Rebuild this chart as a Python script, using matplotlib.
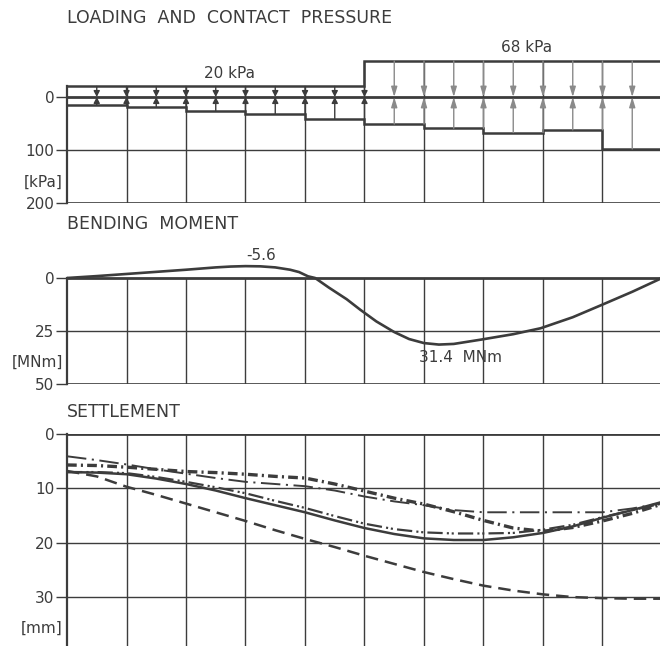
import numpy as np
import matplotlib
matplotlib.use("Agg")
import matplotlib.pyplot as plt

plt.rcParams['font.family'] = ['DejaVu Sans']
plt.rcParams['lines.scale_dashes'] = False

INK = '#3c3c3c'
LIGHT = '#8a8a8a'

# ---------------- data ----------------
cell_edges = np.arange(0, 11)                  # 10 raft segments
load_kpa = [20, 20, 20, 20, 20, 68, 68, 68, 68, 68]
contact_kpa = [15, 18, 27, 32, 41, 51, 59, 67, 62, 98]
load_labels = ["20 kPa", "68 kPa"]

moment_x = [0, 0.5, 1.0, 1.5, 2.0, 2.5, 2.75, 3.0, 3.25, 3.5, 3.75, 3.9, 4.05, 4.17,
            4.4, 4.7, 4.93, 5.2, 5.5, 5.75, 6.0, 6.25, 6.5, 6.95, 7.5, 7.96, 8.5, 8.97, 9.5, 10.0]
moment_mnm = [0, -0.9, -1.9, -2.9, -3.9, -5.0, -5.4, -5.6, -5.5, -5.0, -3.9, -2.8, -0.8, 0,
              4.5, 10.0, 15.0, 20.5, 25.5, 28.8, 30.7, 31.4, 31.1, 29.1, 26.5, 23.7, 18.5, 12.9, 6.5, 0]

settle_x = [0, 0.5, 1, 1.5, 2, 2.5, 3, 3.5, 4, 4.5, 5, 5.5, 6, 6.5, 7, 7.5, 8, 8.5, 9, 9.5, 10]
settle_dashed = [6.8, 7.8, 9.7, 11.2, 12.8, 14.4, 16.0, 17.7, 19.3, 20.8, 22.4, 23.9, 25.4, 26.7,
                 27.9, 28.8, 29.5, 30.0, 30.2, 30.3, 30.3]
settle_solid = [7.0, 7.1, 7.4, 8.2, 9.2, 10.4, 11.8, 13.1, 14.4, 15.9, 17.3, 18.4, 19.2, 19.5,
                19.5, 19.0, 18.2, 17.0, 15.4, 14.0, 12.5]
settle_dd = [7.0, 7.0, 7.2, 7.9, 8.8, 9.8, 10.9, 12.3, 13.6, 15.1, 16.5, 17.5, 18.1, 18.3,
             18.3, 18.2, 17.6, 16.7, 15.3, 14.0, 12.8]
settle_thick_dashdot = [5.7, 5.8, 6.1, 6.5, 6.9, 7.1, 7.4, 7.8, 8.1, 9.2, 10.5, 11.8, 12.9, 14.3,
                        15.9, 17.3, 17.9, 17.2, 16.0, 14.6, 12.9]
settle_thin_dashdot = [4.1, 4.8, 5.6, 6.5, 7.3, 8.1, 8.8, 9.2, 9.6, 10.4, 11.5, 12.4, 13.1, 14.0,
                       14.4, 14.4, 14.4, 14.4, 14.4, 13.7, 12.7]

# ---------------- figure ----------------
W, H = 660, 646
fig = plt.figure(figsize=(W / 100, H / 100), dpi=100)
fig.patch.set_facecolor('white')

def px_axes(left, right, top, bottom):
    return fig.add_axes([left / W, 1 - bottom / H, (right - left) / W, (bottom - top) / H])

X0, X1 = 67, 662
ax1 = px_axes(X0, X1, 54.6, 203)
ax2 = px_axes(X0, X1, 256.8, 384)
ax3 = px_axes(X0, X1, 434, 646)

TICKFS = 11
for ax in (ax1, ax2, ax3):
    ax.set_xlim(0, 10)
    for s in ('top', 'right', 'bottom'):
        ax.spines[s].set_visible(False)
    ax.spines['left'].set_color(INK)
    ax.spines['left'].set_linewidth(1.6)
    ax.set_xticks([])
    ax.tick_params(axis='y', direction='out', length=8, width=1, color=INK,
                   labelcolor=INK, labelsize=TICKFS, pad=1)
    ax.patch.set_alpha(0)

# ---------------- panel 1 : loading and contact pressure ----------------
ax1.set_ylim(200, -80)
ax1.spines['left'].set_bounds(-load_kpa[0], 200)
ax1.set_yticks([0, 100, 200])
ax1.set_yticklabels(['0', '100', '200'])
ax1.text(-0.07, 160, '[kPa]', ha='right', va='center', fontsize=TICKFS, color=INK)

load_arr = np.array(load_kpa)
for i in cell_edges[1:]:
    left = load_arr[i - 1]
    right = load_arr[i] if i < len(load_arr) else left
    ax1.vlines(i, -max(left, right), 200, color=INK, lw=1.0)
ax1.hlines(100, 0, 10, color=INK, lw=1.0)
ax1.hlines(200, 0, 10, color=INK, lw=1.2)
ax1.hlines(0, 0, 10, color=INK, lw=2.0)
ax1.stairs(-load_arr, cell_edges, baseline=None, color=INK, lw=1.8)
ax1.stairs(np.array(contact_kpa), cell_edges, baseline=None, color=INK, lw=1.8)

for xa in np.arange(0.5, 10, 0.5):
    ci = int(np.floor(xa - 1e-6))
    ld = load_kpa[ci]
    cp = contact_kpa[ci]
    col = INK if ci < 5 else LIGHT
    hl = 0.35 if ci < 5 else 0.6
    ap = dict(arrowstyle=f'-|>,head_length={hl},head_width=0.18', lw=1.0,
              color=col, shrinkA=0, shrinkB=0)
    ax1.annotate('', xy=(xa, 0), xytext=(xa, -ld), arrowprops=ap)
    ax1.annotate('', xy=(xa, 0), xytext=(xa, cp), arrowprops=ap)

ax1.text(2.73, -45, load_labels[0], ha='center', va='center', fontsize=11, color=INK)
ax1.text(7.72, -94, load_labels[1], ha='center', va='center', fontsize=11, color=INK,
         clip_on=False)

fig.text(X0 / W, 1 - 18 / H, 'LOADING  AND  CONTACT  PRESSURE', ha='left', va='center',
         fontsize=12.5, color=INK)

# ---------------- panel 2 : bending moment ----------------
ax2.set_ylim(50, -10)
ax2.spines['left'].set_bounds(0, 50)
ax2.set_yticks([0, 25, 50])
ax2.set_yticklabels(['0', '25', '50'])
ax2.text(-0.07, 39.6, '[MNm]', ha='right', va='center', fontsize=TICKFS, color=INK)
for i in cell_edges[1:]:
    ax2.vlines(i, 0, 50, color=INK, lw=1.0)
ax2.hlines(25, 0, 10, color=INK, lw=1.0)
ax2.hlines(50, 0, 10, color=INK, lw=1.2)
ax2.hlines(0, 0, 10, color=INK, lw=2.0)
ax2.plot(moment_x, moment_mnm, color=INK, lw=1.9, solid_capstyle='round')
ax2.text(3.27, -10.8, '-5.6', ha='center', va='center', fontsize=11, color=INK, clip_on=False)
ax2.text(5.92, 37.3, '31.4  MNm', ha='left', va='center', fontsize=11, color=INK)
fig.text(X0 / W, 1 - 224 / H, 'BENDING  MOMENT', ha='left', va='center',
         fontsize=12.5, color=INK)

# ---------------- panel 3 : settlement ----------------
ax3.set_ylim(39, 0)
ax3.spines['left'].set_bounds(0, 39)
ax3.set_yticks([0, 10, 20, 30])
ax3.set_yticklabels(['0', '10', '20', '30'])
ax3.text(-0.07, 35.7, '[mm]', ha='right', va='center', fontsize=TICKFS, color=INK)
for i in cell_edges[1:]:
    ax3.vlines(i, 0, 39, color=INK, lw=1.0)
for yv in (10, 20, 30):
    ax3.hlines(yv, 0, 10, color=INK, lw=1.0)
ax3.hlines(0, 0, 10, color=INK, lw=2.0)

ax3.plot(settle_x, settle_dashed, color=INK, lw=1.8, dashes=[9, 5])
ax3.plot(settle_x, settle_solid, color=INK, lw=1.8)
ax3.plot(settle_x, settle_dd, color=INK, lw=1.6, dashes=[11, 3, 1.5, 2, 1.5, 3])
ax3.plot(settle_x, settle_thick_dashdot, color=INK, lw=2.4, dashes=[7, 3, 1.5, 3])
ax3.plot(settle_x, settle_thin_dashdot, color=INK, lw=1.4, dashes=[14, 4, 1.5, 4])
fig.text(X0 / W, 1 - 412 / H, 'SETTLEMENT', ha='left', va='center',
         fontsize=12.5, color=INK)

fig.savefig('out.png', dpi=100, facecolor='white')
